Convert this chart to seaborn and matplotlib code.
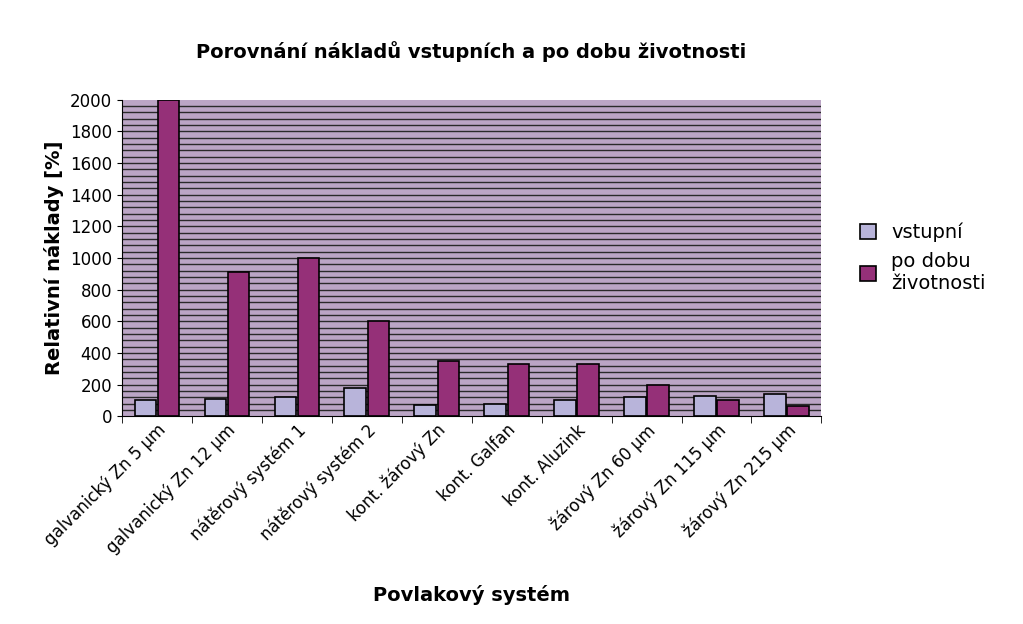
import matplotlib
matplotlib.use("Agg")
import matplotlib.pyplot as plt
import seaborn as sns
import pandas as pd
import numpy as np

categories = ["galvanický Zn 5 µm", "galvanický Zn 12 µm", "nátěrový systém 1", "nátěrový systém 2",
              "kont. žárový Zn", "kont. Galfan", "kont. Aluzink", "žárový Zn 60 µm",
              "žárový Zn 115 µm", "žárový Zn 215 µm"]
vstupni = [100, 110, 120, 180, 70, 80, 100, 120, 130, 140]
po_dobu = [2000, 910, 1000, 600, 350, 330, 330, 200, 100, 65]
series = ["vstupní", "po dobu\nživotnosti"]

df = pd.DataFrame({
    "cat": categories * 2,
    "val": vstupni + po_dobu,
    "ser": [series[0]] * len(categories) + [series[1]] * len(categories),
})

fig = plt.figure(figsize=(10.23, 6.24), dpi=100)
ax = fig.add_axes([0.119, 0.333, 0.684, 0.507])
ax.set_facecolor("#bba5c5")
for y in np.arange(40, 2000, 40):
    ax.axhline(y, color="#2a2a2a", lw=1.0, zorder=0)
sns.barplot(data=df, x="cat", y="val", hue="ser", palette=["#b3aee0", "#a61f7f"],
            edgecolor="black", linewidth=1.2, width=0.66, gap=0.08, ax=ax, zorder=2)
ax.set_ylim(0, 2000)
ax.set_xlim(-0.5, len(categories) - 0.5)
ax.set_yticks(range(0, 2001, 200))
ax.tick_params(axis="y", labelsize=12)
ax.tick_params(axis="x", length=0)
ax.set_xticks(np.arange(len(categories)))
ax.set_xticklabels(categories, rotation=45, ha="right", rotation_mode="anchor", fontsize=12)
ax.set_xticks(np.arange(len(categories) + 1) - 0.5, minor=True)
ax.tick_params(axis="x", which="minor", length=5)
ax.set_xlabel("Povlakový systém", fontsize=14, fontweight="bold", labelpad=20)
ax.set_ylabel("Relativní náklady [%]", fontsize=14, fontweight="bold")
for s in ["top", "right"]:
    ax.spines[s].set_visible(False)
ax.set_title("Porovnání nákladů vstupních a po dobu životnosti", fontsize=14, fontweight="bold", pad=30)
ax.legend(title=None, loc="center left", bbox_to_anchor=(1.03, 0.5), frameon=False, fontsize=14,
          handlelength=0.8, handleheight=0.8)
fig.savefig("out.png", dpi=100)
